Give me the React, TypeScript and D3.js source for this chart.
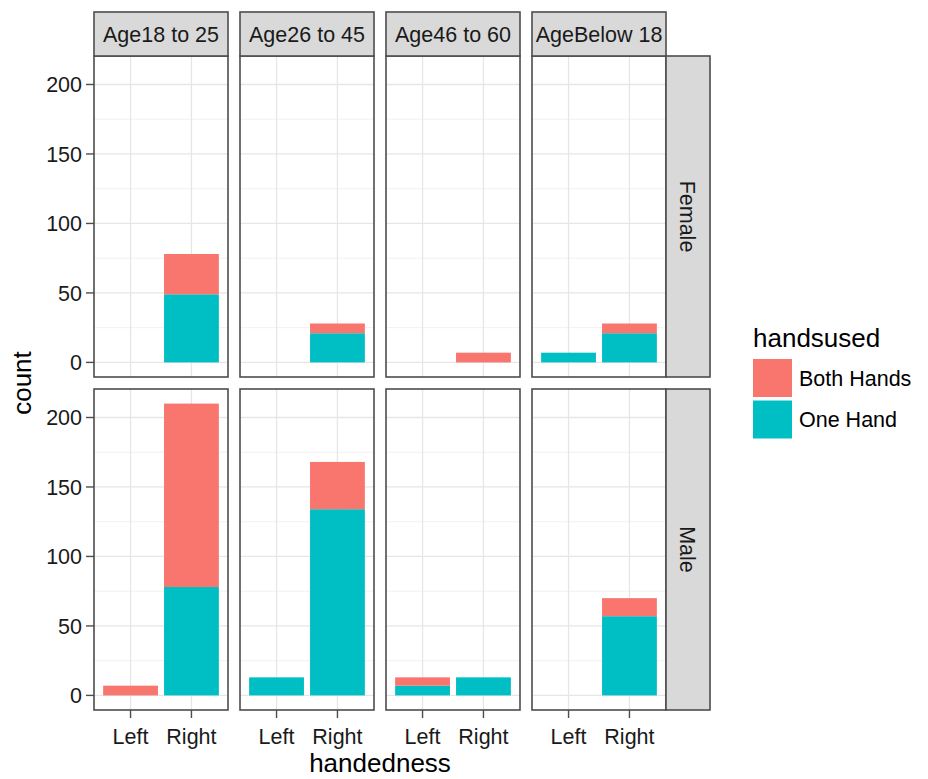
import React from "react";
import * as d3 from "d3";

const ages = ["Age18 to 25", "Age26 to 45", "Age46 to 60", "AgeBelow 18"];
const genders = ["Female", "Male"];
const handedness = ["Left", "Right"];
const handsused = ["Both Hands", "One Hand"];
const yTicks = [0, 50, 100, 150, 200];
const yMinor = [25, 75, 125, 175];

// counts per age: [Left, Right]
const femaleOneHand = [[0, 49], [0, 21], [0, 0], [7, 21]];
const femaleBothHands = [[0, 29], [0, 7], [0, 7], [0, 7]];
const maleOneHand = [[0, 78], [13, 134], [7, 13], [0, 57]];
const maleBothHands = [[7, 132], [0, 34], [6, 0], [0, 13]];

const colors: Record<string, string> = { "Both Hands": "#F8766D", "One Hand": "#00BFC4" };

const W = 928, H = 779;
const panelX0 = 94, panelW = 134, panelGap = 12;
const rowTops = [56, 389];
const panelH = 321;
const stripTop = 12;
const stripH = 44;
const rStripW = 44;
const font = "'Liberation Sans', Arial, Helvetica, sans-serif";

export default function App() {
  const y = (row: number) =>
    d3.scaleLinear().domain([-10.5, 220.5]).range([rowTops[row] + panelH, rowTops[row]]);
  const x = (col: number) => {
    const x0 = panelX0 + col * (panelW + panelGap);
    return d3.scalePoint<string>().domain(handedness).range([x0, x0 + panelW]).padding(0.6);
  };
  const data = [
    { one: femaleOneHand, both: femaleBothHands },
    { one: maleOneHand, both: maleBothHands },
  ];
  const stack = d3.stack<any>().keys(["One Hand", "Both Hands"]);
  const lastX = panelX0 + 3 * (panelW + panelGap) + panelW;

  return (
    <svg
      width={W}
      height={H}
      style={{ position: "absolute", left: 0, top: 0, background: "#fff" }}
      fontFamily={font}
    >
      <rect x={0} y={0} width={W} height={H} fill="#fff" />
      {genders.map((g, row) => {
        const ys = y(row);
        const top = rowTops[row];
        return (
          <g key={g}>
            {ages.map((a, col) => {
              const xs = x(col);
              const x0 = panelX0 + col * (panelW + panelGap);
              const step = xs.step();
              const bw = step * 0.9;
              const recs = handedness.map((h, i) => ({
                h,
                "One Hand": data[row].one[col][i],
                "Both Hands": data[row].both[col][i],
              }));
              const series = stack(recs);
              return (
                <g key={a}>
                  <rect x={x0} y={top} width={panelW} height={panelH} fill="#fff" />
                  {yMinor.map((t) => (
                    <line key={"m" + t} x1={x0} x2={x0 + panelW} y1={ys(t)} y2={ys(t)} stroke="#ededed" strokeWidth={0.8} />
                  ))}
                  {yTicks.map((t) => (
                    <line key={"M" + t} x1={x0} x2={x0 + panelW} y1={ys(t)} y2={ys(t)} stroke="#e6e6e6" strokeWidth={1.3} />
                  ))}
                  {handedness.map((h) => (
                    <line key={h} x1={xs(h)} x2={xs(h)} y1={top} y2={top + panelH} stroke="#e6e6e6" strokeWidth={1.3} />
                  ))}
                  {series.map((s) =>
                    s.map((d, i) =>
                      d[1] - d[0] > 0 ? (
                        <rect
                          key={s.key + i}
                          x={(xs(handedness[i]) as number) - bw / 2}
                          y={ys(d[1])}
                          width={bw}
                          height={ys(d[0]) - ys(d[1])}
                          fill={colors[s.key]}
                        />
                      ) : null
                    )
                  )}
                  <rect x={x0} y={top} width={panelW} height={panelH} fill="none" stroke="#4d4d4d" strokeWidth={1.6} />
                  {row === 0 && (
                    <g>
                      <rect x={x0} y={stripTop} width={panelW} height={stripH} fill="#d9d9d9" stroke="#4d4d4d" strokeWidth={1.6} />
                      <text x={x0 + panelW / 2} y={stripTop + stripH / 2} dy="0.36em" textAnchor="middle" fontSize={21.5} fill="#1a1a1a">
                        {a}
                      </text>
                    </g>
                  )}
                  {row === 1 &&
                    handedness.map((h) => (
                      <g key={"xt" + h}>
                        <line x1={xs(h)} x2={xs(h)} y1={top + panelH} y2={top + panelH + 8} stroke="#4d4d4d" strokeWidth={1.4} />
                        <text x={xs(h)} y={744} textAnchor="middle" fontSize={21.5} fill="#1a1a1a">
                          {h}
                        </text>
                      </g>
                    ))}
                </g>
              );
            })}
            {/* right strip */}
            <rect x={lastX} y={top} width={rStripW} height={panelH} fill="#d9d9d9" stroke="#4d4d4d" strokeWidth={1.6} />
            <text
              transform={`translate(${lastX + rStripW / 2},${top + panelH / 2}) rotate(90)`}
              dy="0.36em"
              textAnchor="middle"
              fontSize={21.5}
              fill="#1a1a1a"
            >
              {g}
            </text>
            {/* y axis */}
            {yTicks.map((t) => (
              <g key={"yt" + t}>
                <line x1={panelX0 - 8} x2={panelX0} y1={ys(t)} y2={ys(t)} stroke="#4d4d4d" strokeWidth={1.4} />
                <text x={panelX0 - 12} y={ys(t)} dy="0.36em" textAnchor="end" fontSize={21.5} fill="#1a1a1a">
                  {t}
                </text>
              </g>
            ))}
          </g>
        );
      })}
      {/* axis titles */}
      <text x={(panelX0 + lastX) / 2} y={772} textAnchor="middle" fontSize={26} fill="#000">
        handedness
      </text>
      <text
        transform={`translate(22,${(rowTops[0] + rowTops[1] + panelH) / 2}) rotate(-90)`}
        dy="0.36em"
        textAnchor="middle"
        fontSize={26}
        fill="#000"
      >
        count
      </text>
      {/* legend */}
      <text x={753} y={347} fontSize={26} fill="#000">
        handsused
      </text>
      {handsused.map((k, i) => (
        <g key={k}>
          <rect x={753} y={359 + i * 41.5} width={39} height={38} fill={colors[k]} />
          <text x={799} y={359 + i * 41.5 + 19} dy="0.36em" fontSize={21.5} fill="#000">
            {k}
          </text>
        </g>
      ))}
    </svg>
  );
}
